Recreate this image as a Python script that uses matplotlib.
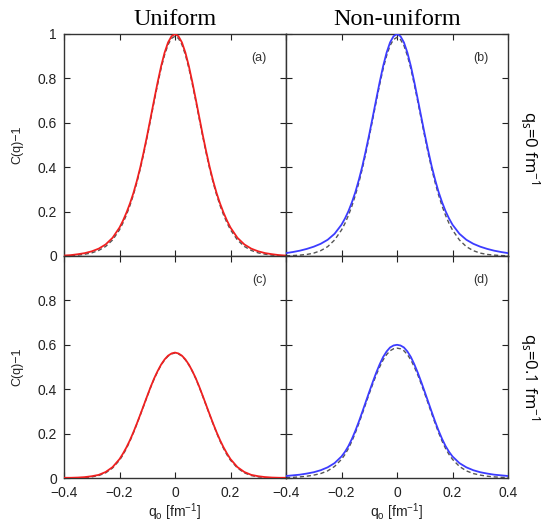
import numpy as np
import matplotlib
matplotlib.use("Agg")
import matplotlib.pyplot as plt

# q_o grid (fm^-1), right half; curves are symmetric about q_o = 0
q_half = [0.0, 0.0125, 0.025, 0.0375, 0.05, 0.0625, 0.075, 0.0875, 0.1,
          0.1125, 0.125, 0.1375, 0.15, 0.1625, 0.175, 0.1875, 0.2,
          0.225, 0.25, 0.275, 0.3, 0.325, 0.35, 0.375, 0.4]

# (a) uniform, q_s = 0
a_solid = [1.000, 0.990, 0.962, 0.916, 0.855, 0.783, 0.705, 0.625, 0.545,
           0.470, 0.400, 0.338, 0.283, 0.236, 0.195, 0.159, 0.128,
           0.082, 0.052, 0.033, 0.021, 0.013, 0.008, 0.004, 0.002]
a_dash = [0.990, 0.980, 0.952, 0.906, 0.846, 0.774, 0.697, 0.617, 0.538,
          0.463, 0.393, 0.331, 0.275, 0.227, 0.185, 0.149, 0.118,
          0.072, 0.043, 0.025, 0.014, 0.008, 0.004, 0.002, 0.001]
# (b) non-uniform, q_s = 0
b_solid = [1.000, 0.990, 0.962, 0.916, 0.855, 0.783, 0.705, 0.626, 0.548,
           0.474, 0.404, 0.343, 0.288, 0.242, 0.202, 0.169, 0.141,
           0.100, 0.073, 0.055, 0.042, 0.032, 0.024, 0.018, 0.013]
b_dash = [0.985, 0.975, 0.948, 0.902, 0.843, 0.772, 0.695, 0.616, 0.538,
          0.463, 0.393, 0.330, 0.274, 0.225, 0.183, 0.147, 0.117,
          0.072, 0.042, 0.024, 0.013, 0.007, 0.004, 0.002, 0.001]
# (c) uniform, q_s = 0.1
c_solid = [0.565, 0.561, 0.551, 0.534, 0.511, 0.482, 0.449, 0.411, 0.370,
           0.328, 0.286, 0.245, 0.206, 0.170, 0.138, 0.110, 0.085,
           0.049, 0.027, 0.014, 0.008, 0.004, 0.002, 0.001, 0.001]
c_dash = [0.563, 0.559, 0.549, 0.532, 0.509, 0.480, 0.447, 0.409, 0.368,
          0.326, 0.284, 0.243, 0.203, 0.166, 0.133, 0.104, 0.080,
          0.045, 0.023, 0.011, 0.005, 0.002, 0.001, 0.000, 0.000]
# (d) non-uniform, q_s = 0.1
d_solid = [0.600, 0.597, 0.588, 0.570, 0.545, 0.512, 0.474, 0.432, 0.388,
           0.343, 0.298, 0.254, 0.213, 0.176, 0.144, 0.118, 0.097,
           0.067, 0.048, 0.035, 0.026, 0.020, 0.015, 0.012, 0.009]
d_dash = [0.585, 0.582, 0.573, 0.556, 0.532, 0.500, 0.464, 0.423, 0.380,
          0.335, 0.290, 0.246, 0.204, 0.166, 0.133, 0.106, 0.084,
          0.052, 0.032, 0.020, 0.013, 0.008, 0.005, 0.003, 0.002]

col_titles = ["Uniform", "Non-uniform"]
row_labels = [r"q$_\mathregular{s}$=0 fm$^\mathregular{-1}$",
              r"q$_\mathregular{s}$=0.1 fm$^\mathregular{-1}$"]
panel_tags = ["(a)", "(b)", "(c)", "(d)"]
x_ticks = [-0.4, -0.2, 0.0, 0.2, 0.4]
y_ticks = [0.0, 0.2, 0.4, 0.6, 0.8, 1.0]
x_ticklabels = ["\u22120.4", "\u22120.2", "0", "0.2", "0.4"]
y_ticklabels = ["0", "0.2", "0.4", "0.6", "0.8", "1"]

RED = "#f02020"
BLUE = "#3c3cff"
DASH = "#555555"
INK = "#222222"


def mirror(v):
    v = np.asarray(v, dtype=float)
    return np.concatenate([v[:0:-1], v])


q = np.concatenate([-np.asarray(q_half)[:0:-1], q_half])

plt.rcParams["font.family"] = ["Liberation Sans", "DejaVu Sans"]
plt.rcParams["mathtext.fontset"] = "custom"
plt.rcParams["mathtext.rm"] = "Liberation Sans"
plt.rcParams["mathtext.it"] = "Liberation Sans"

fig = plt.figure(figsize=(5.42, 5.24), dpi=100)
W, H = 542, 524
left, mid = 64, 286
top, hmid = 34, 256
side = 222

panels = [
    (a_solid, a_dash, RED, 0, 0),
    (b_solid, b_dash, BLUE, 0, 1),
    (c_solid, c_dash, RED, 1, 0),
    (d_solid, d_dash, BLUE, 1, 1),
]

for i, (sol, dsh, col, r, c) in enumerate(panels):
    x0 = left if c == 0 else mid
    y1 = top if r == 0 else hmid
    ax = fig.add_axes([x0 / W, 1 - (y1 + side) / H, side / W, side / H])
    ax.plot(q, mirror(dsh), color=DASH, lw=1.0, dashes=(3, 2), zorder=2)
    ax.plot(q, mirror(sol), color=col, lw=1.3, zorder=3)
    ax.set_xlim(-0.4, 0.4)
    ax.set_ylim(0, 1)
    ax.set_xticks(x_ticks)
    ax.set_yticks(y_ticks)
    ax.tick_params(direction="in", top=True, right=True, length=4, width=0.8,
                   labelsize=10, colors=INK)
    ax.tick_params(axis="x", pad=6)
    ax.tick_params(axis="y", pad=5)
    for s in ax.spines.values():
        s.set_color("#333333")
        s.set_linewidth(1.0)

    if r == 0:
        ax.set_xticklabels([])
    else:
        labs = list(x_ticklabels)
        if c == 0:
            labs[-1] = ""
        ax.set_xticklabels(labs)
        ax.set_xlabel(r"q$_\mathregular{o}$ [fm$^\mathregular{-1}$]",
                      fontsize=10, color=INK, labelpad=1)
    if c == 1:
        ax.set_yticklabels([])
    else:
        labs = list(y_ticklabels)
        if r == 1:
            labs[-1] = ""
        ax.set_yticklabels(labs)
        ax.set_ylabel("C(q)\u22121", fontsize=9, color=INK, labelpad=10)

    ax.text(0.88, 0.89, panel_tags[i], transform=ax.transAxes, fontsize=9,
            color="#333333", ha="center", va="center")

    if r == 0:
        ax.set_title(col_titles[c], fontsize=17.5, family="Liberation Serif",
                     pad=6.5)
    if c == 1:
        ax.text(1.10, 0.489 if r == 0 else 0.455, row_labels[r],
                transform=ax.transAxes, rotation=270, fontsize=12,
                family="Open Sans", ha="center", va="center")

fig.savefig("out.png", dpi=100)
